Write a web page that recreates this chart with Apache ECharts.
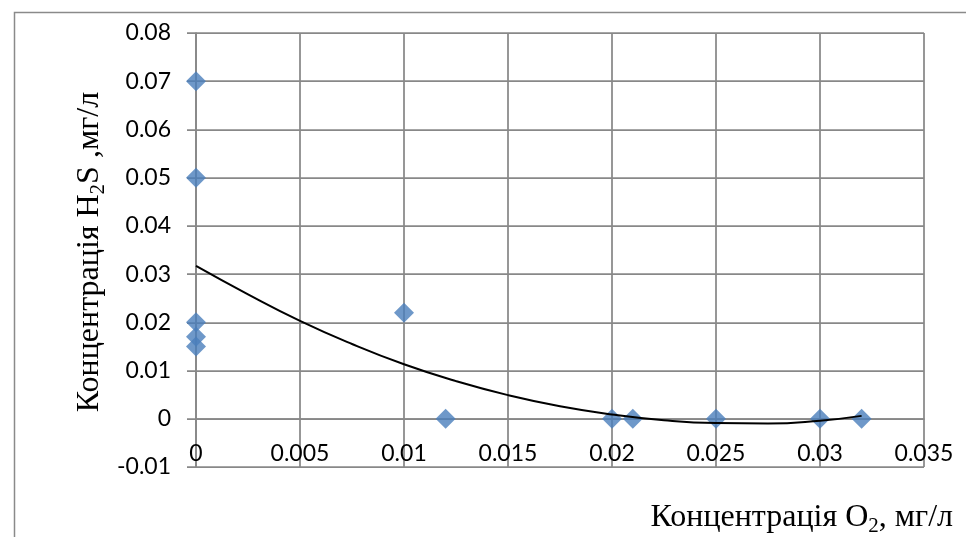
<!DOCTYPE html>
<html>
<head>
<meta charset="utf-8">
<script src="https://cdn.jsdelivr.net/npm/echarts@6/dist/echarts.min.js"></script>
<style>
html,body{margin:0;padding:0;background:#fff;}
#c{width:966px;height:537px;}
</style>
</head>
<body>
<div id="c"></div>
<script>
// O2 concentration (mg/l) and H2S concentration (mg/l) observations
var o2Values = [0, 0, 0, 0, 0, 0.01, 0.012, 0.02, 0.021, 0.025, 0.03, 0.032];
var h2sValues = [0.07, 0.05, 0.02, 0.017, 0.015, 0.022, 0, 0, 0, 0, 0, 0];
// polynomial trendline
var trendX = [0, 0.0025, 0.005, 0.0075, 0.01, 0.0125, 0.015, 0.0175, 0.02, 0.0225, 0.025, 0.0275, 0.03, 0.032];
var trendY = [0.0317, 0.0258, 0.0203, 0.0155, 0.0113, 0.0078, 0.0049, 0.0026, 0.0009, -0.0003, -0.0009, -0.0010, -0.0004, 0.0006];
// axis ticks
var xTicks = [0, 0.005, 0.01, 0.015, 0.02, 0.025, 0.03, 0.035];
var yTicks = [-0.01, 0, 0.01, 0.02, 0.03, 0.04, 0.05, 0.06, 0.07, 0.08];

var chart = echarts.init(document.getElementById('c'));
var gridColor = '#888888';
var labelFont = 'Lato, "Open Sans", sans-serif';
var serif = '"Liberation Serif", "DejaVu Serif", serif';

var gridTop = 33, gridBottom = 70, H = 537;
var plotH = H - gridTop - gridBottom;
var yMin = yTicks[0], yMax = yTicks[yTicks.length - 1];
var zeroOffset = -plotH * (0 - yMin) / (yMax - yMin);

var scatterData = o2Values.map(function (x, i) { return [x, h2sValues[i]]; });
var trendData = trendX.map(function (x, i) { return [x, trendY[i]]; });

chart.setOption({
  animation: false,
  backgroundColor: '#ffffff',
  grid: { left: 196, right: 42, top: gridTop, bottom: gridBottom, containLabel: false },
  xAxis: {
    type: 'value',
    min: xTicks[0], max: xTicks[xTicks.length - 1], interval: 0.005,
    offset: zeroOffset,
    axisLine: { show: true, onZero: false, lineStyle: { color: gridColor, width: 1.75 } },
    axisTick: { show: false },
    axisLabel: { color: '#000', fontFamily: labelFont, fontSize: 23, margin: 23,
      formatter: function (v) { return String(+v.toFixed(3)); } },
    splitLine: { show: true, lineStyle: { color: gridColor, width: 1.75 } }
  },
  yAxis: {
    type: 'value',
    min: yMin, max: yMax, interval: 0.01,
    axisLine: { show: true, onZero: false, lineStyle: { color: gridColor, width: 1.75 } },
    axisTick: { show: true, length: 9, lineStyle: { color: gridColor, width: 1.75 } },
    axisLabel: { color: '#000', fontFamily: labelFont, fontSize: 23, margin: 25,
      formatter: function (v) { return String(+v.toFixed(2)); } },
    splitLine: { show: true, lineStyle: { color: gridColor, width: 1.75 } }
  },
  series: [
    {
      type: 'scatter',
      data: scatterData,
      symbol: 'diamond',
      symbolSize: 20,
      itemStyle: { color: '#4A7EBB' },
      z: 3
    },
    {
      type: 'line',
      data: trendData,
      smooth: true,
      showSymbol: false,
      lineStyle: { color: '#000', width: 2 },
      z: 4
    }
  ],
  graphic: [
    {
      type: 'rect', left: 12, top: 10, silent: true,
      shape: { x: 0, y: 0, width: 1000, height: 600 },
      style: { fill: 'none', stroke: '#8a8a8a', lineWidth: 1.5 }
    },
    {
      type: 'text', x: 90, y: 252, rotation: Math.PI / 2, silent: true,
      style: {
        text: '{m|Концентрація H}{s|2}{m|S ,мг/л}',
        align: 'center', verticalAlign: 'middle',
        rich: {
          m: { fontFamily: serif, fontSize: 32, color: '#000', lineHeight: 38, verticalAlign: 'middle' },
          s: { fontFamily: serif, fontSize: 21, color: '#000', lineHeight: 18, verticalAlign: 'bottom' }
        }
      }
    },
    {
      type: 'text', x: 953, y: 518, silent: true,
      style: {
        text: '{m|Концентрація O}{s|2}{m|, мг/л}',
        align: 'right', verticalAlign: 'middle',
        rich: {
          m: { fontFamily: serif, fontSize: 32, color: '#000', lineHeight: 38, verticalAlign: 'middle' },
          s: { fontFamily: serif, fontSize: 21, color: '#000', lineHeight: 18, verticalAlign: 'bottom' }
        }
      }
    }
  ]
});
</script>
</body>
</html>
